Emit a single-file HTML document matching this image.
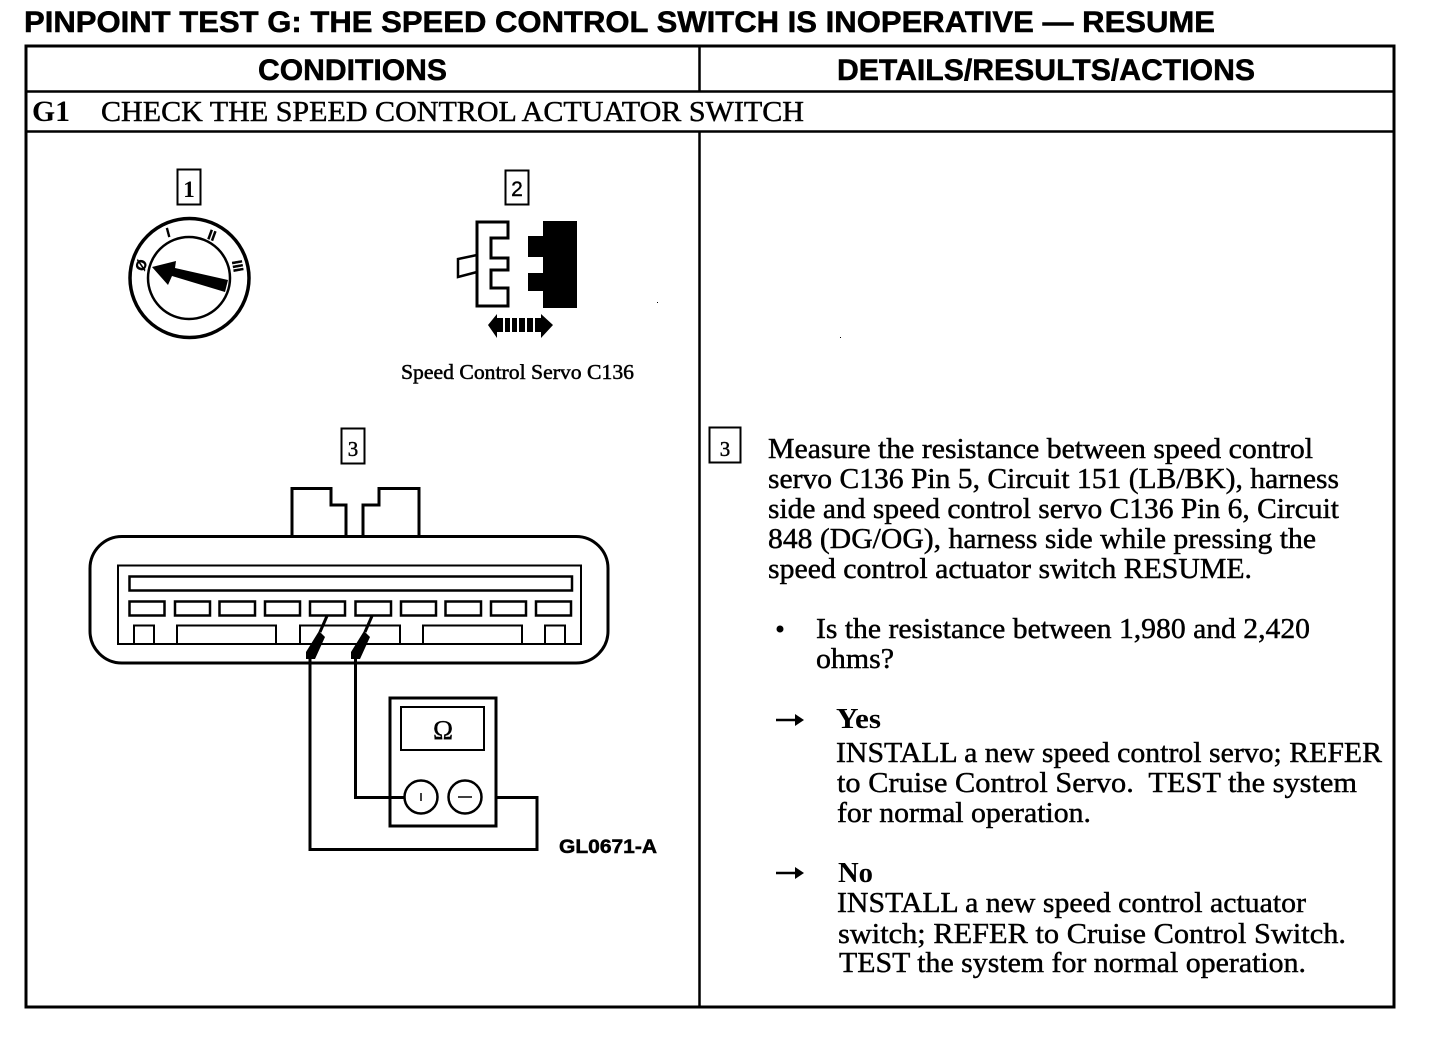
<!DOCTYPE html>
<html lang="en">
<head>
<meta charset="utf-8">
<title>Pinpoint Test G</title>
<style>
html,body{margin:0;padding:0;background:#fff;width:1440px;height:1040px;overflow:hidden}
svg{display:block}
.s{font-family:"Liberation Serif",serif;font-size:29px;fill:#000;stroke:#000;stroke-width:.45px}
.b{font-family:"Liberation Sans",sans-serif;font-weight:bold;fill:#000;stroke:#000;stroke-width:.5px}
.l{fill:none;stroke:#000;stroke-linejoin:miter}
</style>
</head>
<body>
<svg width="1440" height="1040" viewBox="0 0 1440 1040" xmlns="http://www.w3.org/2000/svg">
<rect width="1440" height="1040" fill="#fff"/>

<!-- Title and table -->
<text class="b" x="24" y="32" font-size="30" textLength="1191" lengthAdjust="spacingAndGlyphs">PINPOINT TEST G:  THE SPEED CONTROL SWITCH IS INOPERATIVE — RESUME</text>
<rect class="l" x="26" y="46" width="1368" height="961" stroke-width="3"/>
<path class="l" d="M26 91.5H1394M26 131.5H1394M699.5 46V91M699.5 131V1007" stroke-width="2.5"/>
<text class="b" x="258" y="80" font-size="30" textLength="189" lengthAdjust="spacingAndGlyphs">CONDITIONS</text>
<text class="b" x="837" y="80" font-size="30" textLength="418" lengthAdjust="spacingAndGlyphs">DETAILS/RESULTS/ACTIONS</text>
<text x="32" y="121" font-family="'Liberation Serif',serif" font-weight="bold" font-size="30" textLength="38" lengthAdjust="spacingAndGlyphs">G1</text>
<text class="s" x="101" y="121" textLength="703" lengthAdjust="spacingAndGlyphs">CHECK THE SPEED CONTROL ACTUATOR SWITCH</text>

<!-- Callout 1 and ignition dial -->
<rect class="l" x="177.5" y="169.5" width="23" height="35" stroke-width="2"/>
<text x="189" y="197" text-anchor="middle" font-family="'Liberation Serif',serif" font-size="23" font-weight="bold">1</text>
<circle class="l" cx="189.500" cy="278" r="59.500" stroke-width="3.500"/>
<circle class="l" cx="189" cy="278" r="41" stroke-width="2.500"/>
<polygon points="152,267 176,261 175,268 228,280 225,292 172,276 168,285" fill="#000"/>
<text x="168" y="237" text-anchor="middle" font-family="'Liberation Sans',sans-serif" font-size="13" font-weight="bold" stroke="#000" stroke-width=".5" transform="rotate(-15 168 232)">I</text>
<text x="212" y="240" text-anchor="middle" font-family="'Liberation Sans',sans-serif" font-size="14" font-weight="bold" stroke="#000" stroke-width=".5" transform="rotate(20 212 235)">II</text>
<text x="238" y="271" text-anchor="middle" font-family="'Liberation Sans',sans-serif" font-size="14" font-weight="bold" stroke="#000" stroke-width=".5" transform="rotate(80 238 266)">III</text>
<text x="141" y="270" text-anchor="middle" font-family="'Liberation Sans',sans-serif" font-size="14" font-weight="bold" stroke="#000" stroke-width=".5" transform="rotate(-70 141 265)">Ø</text>

<!-- Callout 2 and connector -->
<rect class="l" x="505.5" y="170.5" width="23" height="34" stroke-width="2"/>
<text x="517" y="196" text-anchor="middle" font-family="'Liberation Sans',sans-serif" font-size="21" stroke="#000" stroke-width=".4">2</text>
<polygon class="l" points="477,222 508,222 508,238 491,238 491,258 508,258 508,270 491,270 491,288 508,288 508,306 477,306" fill="#fff" stroke-width="3"/>
<path class="l" d="M477 255L458 259V277L477 272" stroke-width="2.5"/>
<path d="M543 221H577V308H543V291H528V273H543V257H528V236H543Z" fill="#000"/>
<path d="M488 325L497 314V338ZM553 325L541 314V338Z" fill="#000"/>
<path d="M497 318h6v14h-6zM505 318h5v14h-5zM512 318h5v14h-5zM519 318h6v14h-6zM527 318h6v14h-6zM535 318h6v14h-6z" fill="#000"/>
<text x="401" y="379" font-family="'Liberation Serif',serif" font-size="21" stroke="#000" stroke-width=".5" textLength="233" lengthAdjust="spacingAndGlyphs">Speed Control Servo C136</text>

<!-- Callout 3 and connector -->
<rect class="l" x="341.5" y="428.5" width="23" height="35" stroke-width="2"/>
<text x="353" y="456" text-anchor="middle" font-family="'Liberation Serif',serif" font-size="21" stroke="#000" stroke-width=".4">3</text>
<path class="l" d="M292 536V488.500H331V505H346V536M363 536V505H379V488.500H419V536" stroke-width="3"/>
<rect class="l" x="90" y="536.500" width="518" height="126.500" rx="32" ry="32" stroke-width="3"/>
<rect class="l" x="118" y="565.500" width="463" height="78.500" stroke-width="2"/>
<rect class="l" x="129.500" y="576.500" width="442.500" height="14" stroke-width="2.500"/>
<g class="l" stroke-width="2.500">
<rect x="129.500" y="601.500" width="35" height="14"/>
<rect x="175" y="601.500" width="35" height="14"/>
<rect x="219.500" y="601.500" width="35.500" height="14"/>
<rect x="265" y="601.500" width="35" height="14"/>
<rect x="310" y="601.500" width="35" height="14"/>
<rect x="355.500" y="601.500" width="35.500" height="14"/>
<rect x="401" y="601.500" width="35" height="14"/>
<rect x="445.500" y="601.500" width="35.500" height="14"/>
<rect x="491" y="601.500" width="35" height="14"/>
<rect x="536" y="601.500" width="35" height="14"/>
</g>
<path class="l" d="M134 644V625.500H154V644M177 644V625.500H276V644M300 644V625.500H400V644M423 644V625.500H522V644M545 644V625.500H565V644" stroke-width="2"/>

<!-- Probes and meter -->
<path class="l" d="M327 616L320 632M372 616L365 632" stroke-width="3"/>
<path d="M319 631L325 637L315 659H306L306 652ZM364 631L370 637L360 659H351L351 652Z" fill="#000"/>
<path class="l" d="M310 658V849.500H537V797.500H495" stroke-width="3"/>
<path class="l" d="M355.500 658V797.500H404" stroke-width="3"/>
<rect class="l" x="390" y="698" width="106" height="128" stroke-width="3"/>
<rect class="l" x="401" y="707" width="83" height="43" stroke-width="2"/>
<text x="443" y="739" text-anchor="middle" font-family="'Liberation Serif',serif" font-size="27" stroke="#000" stroke-width=".3">Ω</text>
<circle class="l" cx="421" cy="797" r="16.500" stroke-width="2.500" fill="#fff"/>
<circle class="l" cx="465" cy="797" r="16.500" stroke-width="2.500" fill="#fff"/>
<path class="l" d="M421 793V801M458 797H472" stroke-width="1.500"/>
<text class="b" x="559" y="853" font-size="19" textLength="98" lengthAdjust="spacingAndGlyphs">GL0671-A</text>

<!-- Right column -->
<rect class="l" x="709.500" y="427.500" width="31" height="35" stroke-width="2"/>
<text x="725" y="456" text-anchor="middle" font-family="'Liberation Serif',serif" font-size="21" stroke="#000" stroke-width=".4">3</text>
<text class="s" x="768" y="458" textLength="545" lengthAdjust="spacingAndGlyphs">Measure the resistance between speed control</text>
<text class="s" x="768" y="488" textLength="571" lengthAdjust="spacingAndGlyphs">servo C136 Pin 5, Circuit 151 (LB/BK), harness</text>
<text class="s" x="768" y="518" textLength="571" lengthAdjust="spacingAndGlyphs">side and speed control servo C136 Pin 6, Circuit</text>
<text class="s" x="768" y="548" textLength="548" lengthAdjust="spacingAndGlyphs">848 (DG/OG), harness side while pressing the</text>
<text class="s" x="768" y="578" textLength="484" lengthAdjust="spacingAndGlyphs">speed control actuator switch RESUME.</text>
<circle cx="780" cy="629" r="3.500" fill="#000"/>
<text class="s" x="816" y="638" textLength="494" lengthAdjust="spacingAndGlyphs">Is the resistance between 1,980 and 2,420</text>
<text class="s" x="816" y="668" textLength="78" lengthAdjust="spacingAndGlyphs">ohms?</text>

<path class="l" d="M776 720H800" stroke-width="2.500"/>
<path d="M795 714L804 720L795 726Z" fill="#000"/>
<text x="836" y="728" font-family="'Liberation Serif',serif" font-weight="bold" font-size="29" textLength="45" lengthAdjust="spacingAndGlyphs">Yes</text>
<text class="s" x="836" y="762" textLength="546" lengthAdjust="spacingAndGlyphs">INSTALL a new speed control servo; REFER</text>
<text class="s" x="837" y="792" textLength="520" lengthAdjust="spacingAndGlyphs" xml:space="preserve">to Cruise Control Servo.  TEST the system</text>
<text class="s" x="837" y="822" textLength="254" lengthAdjust="spacingAndGlyphs">for normal operation.</text>

<path class="l" d="M776 873H800" stroke-width="2.500"/>
<path d="M795 867L804 873L795 879Z" fill="#000"/>
<text x="838" y="882" font-family="'Liberation Serif',serif" font-weight="bold" font-size="29" textLength="35" lengthAdjust="spacingAndGlyphs">No</text>
<text class="s" x="837" y="912" textLength="469" lengthAdjust="spacingAndGlyphs">INSTALL a new speed control actuator</text>
<text class="s" x="838" y="943" textLength="508" lengthAdjust="spacingAndGlyphs">switch; REFER to Cruise Control Switch.</text>
<text class="s" x="839" y="972" textLength="467" lengthAdjust="spacingAndGlyphs">TEST the system for normal operation.</text>

<rect x="657" y="302" width="1" height="1" fill="#000"/>
<rect x="840" y="337" width="1" height="1" fill="#000"/>
</svg>
</body>
</html>
